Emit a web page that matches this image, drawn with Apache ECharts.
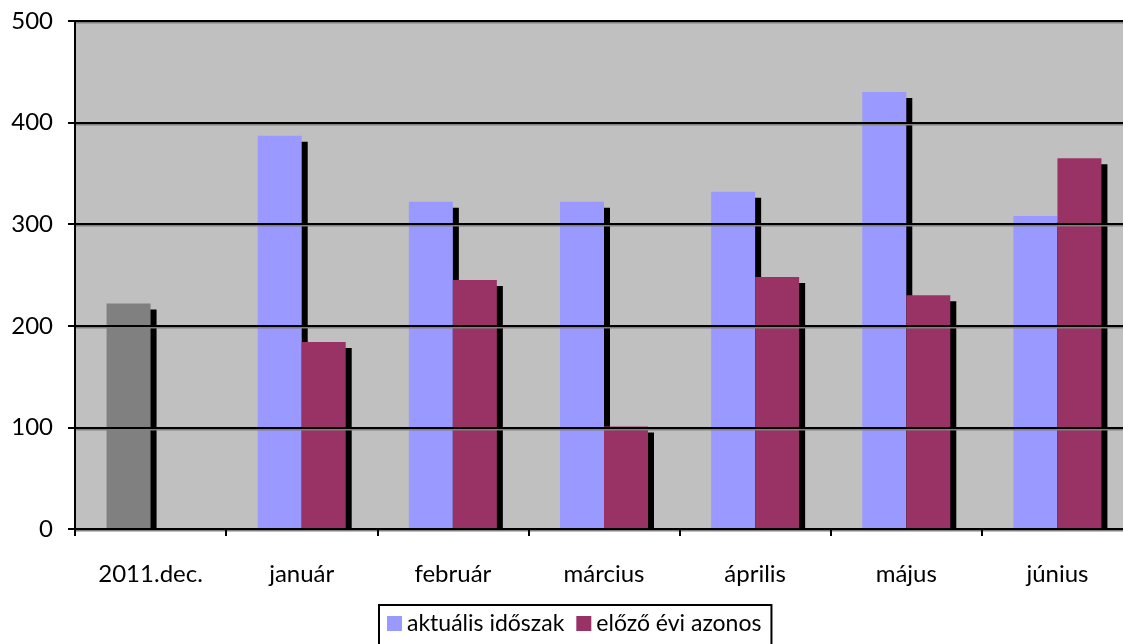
<!DOCTYPE html>
<html>
<head>
<meta charset="utf-8">
<script src="https://cdn.jsdelivr.net/npm/echarts@6/dist/echarts.min.js"></script>
<style>html,body{margin:0;padding:0;background:#fff;}#c{width:1123px;height:644px;}</style>
</head>
<body>
<div id="c"></div>
<script>
var categories = ['2011.dec.', 'január', 'február', 'március', 'április', 'május', 'június'];
var seriesNames = ['aktuális időszak', 'előző évi azonos'];
var currentValues = [222, 387, 322, 322, 332, 430, 308];
var previousValues = [null, 184, 245, 101, 248, 230, 365];
var yTicks = { min: 0, max: 500, interval: 100 };

var FONT = 'Lato, "Open Sans", sans-serif';
var chart = echarts.init(document.getElementById('c'), null, { renderer: 'canvas' });
var shadow = { shadowColor: '#000', shadowBlur: 0, shadowOffsetX: 6, shadowOffsetY: 6 };

var curData = currentValues.map(function (v, i) {
  if (i === 0) return { value: v, itemStyle: { color: '#808080' } };
  return v;
});

chart.setOption({
  animation: false,
  grid: {
    left: 75, top: 21, width: 1058, bottom: 115,
    outerBoundsMode: 'none', containLabel: false,
    show: true, backgroundColor: '#c0c0c0', borderColor: '#808080', borderWidth: 2
  },
  legend: {
    data: seriesNames,
    top: 605, left: 379,
    backgroundColor: '#fff', borderColor: '#000', borderWidth: 2,
    padding: [7, 10, 10, 8],
    itemWidth: 15, itemHeight: 15, itemGap: 12, icon: 'rect',
    textStyle: { fontFamily: FONT, fontSize: 23, color: '#000' }
  },
  xAxis: {
    type: 'category', data: categories, z: 10,
    axisLine: { lineStyle: { color: '#000', width: 2 } },
    axisTick: { show: true, length: 7, lineStyle: { color: '#000', width: 2 } },
    axisLabel: { margin: 33, fontFamily: FONT, fontSize: 24, color: '#000' }
  },
  yAxis: {
    type: 'value', min: yTicks.min, max: yTicks.max, interval: yTicks.interval, z: 10,
    axisLine: { show: true, lineStyle: { color: '#000', width: 2 } },
    axisTick: { show: true, length: 7, lineStyle: { color: '#000', width: 2 } },
    axisLabel: { margin: 22, fontFamily: FONT, fontSize: 24, color: '#000' },
    splitLine: { show: true, lineStyle: { color: '#000', width: 2, shadowColor: '#808080', shadowBlur: 0, shadowOffsetY: 1.5 } }
  },
  graphic: [{
    type: 'rect', z: 9, left: 75, top: 530,
    shape: { width: 1060, height: 8 },
    style: { fill: '#fff' }
  }],
  series: [
    { name: seriesNames[0], type: 'bar', data: curData, barWidth: 44, barGap: '0%',
      itemStyle: Object.assign({ color: '#9999ff' }, shadow) },
    { name: seriesNames[1], type: 'bar', data: previousValues, barWidth: 44, barGap: '0%',
      itemStyle: Object.assign({ color: '#993366' }, shadow) }
  ]
});
</script>
</body>
</html>
